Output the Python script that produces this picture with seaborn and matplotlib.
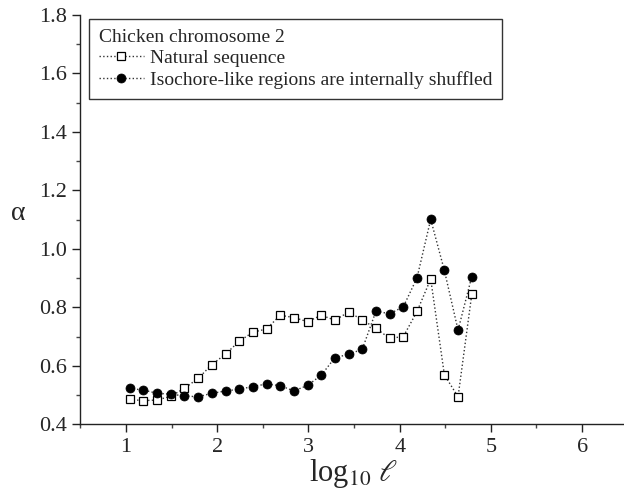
import numpy as np
import pandas as pd
import seaborn as sns
import matplotlib
matplotlib.use("Agg")
import matplotlib.pyplot as plt
from matplotlib.ticker import MultipleLocator, FormatStrFormatter

log_l = [1.04, 1.19, 1.34, 1.49, 1.64, 1.79, 1.94, 2.09, 2.24, 2.39,
         2.54, 2.69, 2.84, 2.99, 3.14, 3.29, 3.44, 3.59, 3.74, 3.89,
         4.04, 4.19, 4.34, 4.49, 4.64, 4.79]

alpha_natural = [0.485, 0.481, 0.483, 0.496, 0.523, 0.557, 0.604, 0.640, 0.684, 0.715,
                 0.726, 0.773, 0.765, 0.751, 0.773, 0.756, 0.784, 0.757, 0.728, 0.694,
                 0.700, 0.786, 0.897, 0.569, 0.494, 0.844]

alpha_shuffled = [0.523, 0.517, 0.506, 0.503, 0.497, 0.494, 0.506, 0.514, 0.520, 0.529,
                  0.538, 0.532, 0.514, 0.533, 0.568, 0.628, 0.639, 0.657, 0.787, 0.778,
                  0.802, 0.901, 1.101, 0.926, 0.722, 0.905]

label_natural = "Natural sequence"
label_shuffled = "Isochore-like regions are internally shuffled"
legend_title = "Chicken chromosome 2"

sns.set_theme(style="ticks")
plt.rcParams["font.family"] = ["Liberation Serif", "DejaVu Serif"]
plt.rcParams["mathtext.fontset"] = "stix"

df = pd.DataFrame({"x": log_l, "natural": alpha_natural, "shuffled": alpha_shuffled})

fig = plt.figure(figsize=(6.24, 4.98), dpi=100)
ax = fig.add_axes([0.129, 0.148, 0.874, 0.822])

sns.lineplot(data=df, x="x", y="natural", ax=ax, color="#333333", linestyle=":",
             linewidth=1.0, marker="s", markersize=5.5, markerfacecolor="white",
             markeredgecolor="black", markeredgewidth=0.9, label=label_natural)
sns.lineplot(data=df, x="x", y="shuffled", ax=ax, color="#333333", linestyle=":",
             linewidth=1.0, marker="o", markersize=6.5, markerfacecolor="black",
             markeredgecolor="black", markeredgewidth=0.5, label=label_shuffled)

ax.set_xlim(0.5, 6.48)
ax.set_ylim(0.4, 1.8)
ax.set_xticks([1, 2, 3, 4, 5, 6])
ax.xaxis.set_minor_locator(MultipleLocator(0.5))
ax.yaxis.set_major_locator(MultipleLocator(0.2))
ax.yaxis.set_minor_locator(MultipleLocator(0.1))
ax.yaxis.set_major_formatter(FormatStrFormatter("%.1f"))

for s in ["top", "right"]:
    ax.spines[s].set_visible(False)
for s in ["left", "bottom"]:
    ax.spines[s].set_color("#222222")
    ax.spines[s].set_linewidth(1.0)

ax.tick_params(which="major", direction="out", length=6, width=1.0, color="#222222",
               labelsize=16, pad=4)
ax.tick_params(which="minor", direction="out", length=3, width=1.0, color="#444444")

ax.set_xlabel(r"log$_{10}$ $\ell$", fontsize=22, labelpad=0)
ax.set_ylabel("α", fontsize=20, rotation=0, va="center")
ax.yaxis.set_label_coords(18 / 624, (498 - 213) / 498, transform=fig.transFigure)

leg = ax.legend(loc="upper left", bbox_to_anchor=(89.3 / 624, (498 - 19) / 498),
                bbox_transform=fig.transFigure, borderaxespad=0, title=legend_title,
                fontsize=14, title_fontsize=14, frameon=True, fancybox=False,
                handlelength=2.3, handletextpad=0.3, labelspacing=0.2,
                borderpad=0.5, alignment="left", edgecolor="black")
leg.get_frame().set_linewidth(1.0)

fig.savefig("out.png", dpi=100)
